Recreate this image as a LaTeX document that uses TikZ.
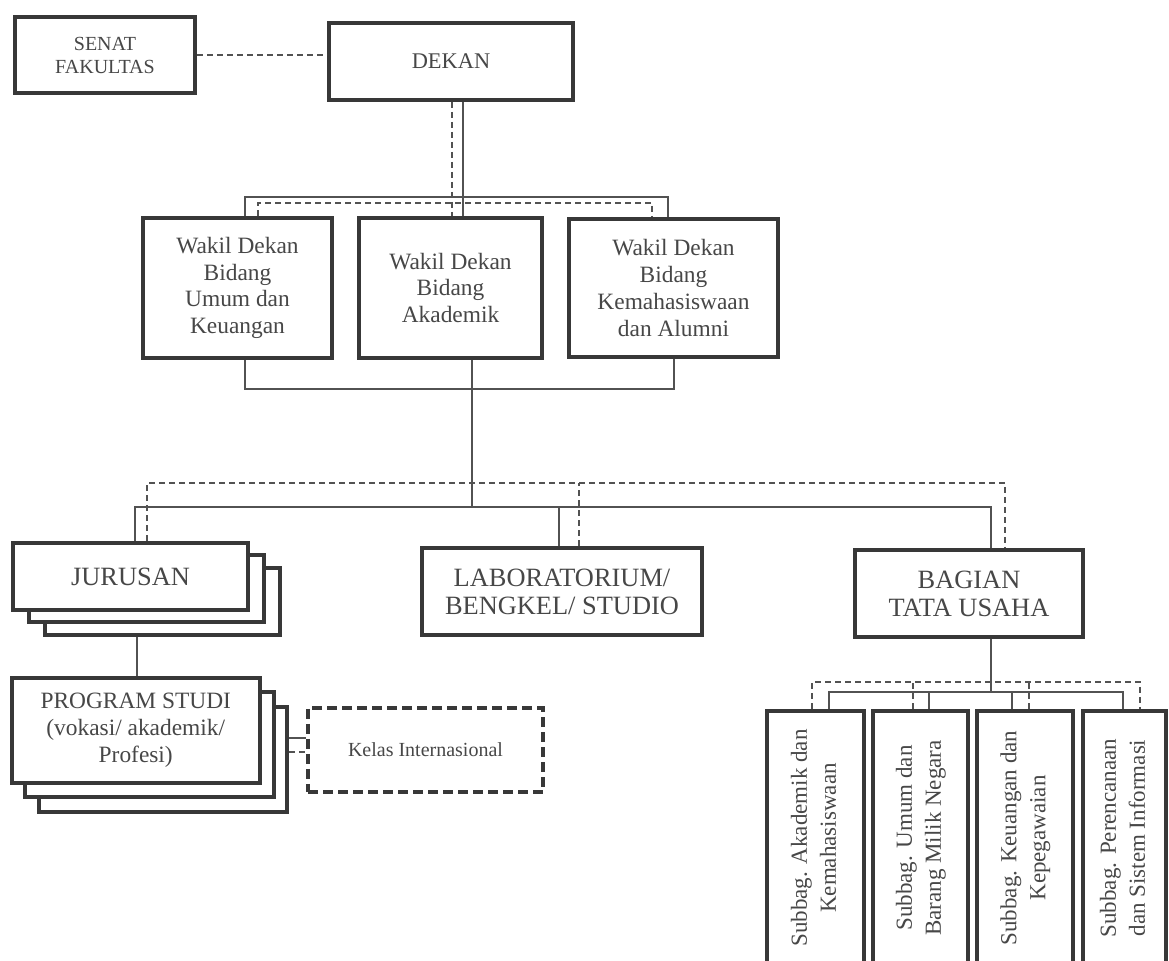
\documentclass[tikz,border=0pt]{standalone}
\usepackage{fontspec}
\setmainfont{Liberation Serif}
\usepackage{graphicx}
\usepackage{tikz}
\usetikzlibrary{calc}

\tikzset{
  box/.style={draw=black!78, line width=2pt, fill=white, text=black!72, align=center, inner sep=1pt},
  kelasbox/.style={box, dash pattern=on 5pt off 2.5pt, line width=2pt},
  link/.style={draw=black!68, line width=1pt},
  dlink/.style={link, dash pattern=on 3pt off 2pt},
  wdfont/.style={font=\fontsize{11.7}{13.4}\selectfont},
  bigfont/.style={font=\fontsize{13.2}{14}\selectfont},
  subfont/.style={font=\fontsize{11.5}{14.5}\selectfont},
}
\newcommand{\vtext}[1]{\rotatebox{90}{\begin{tabular}{@{}c@{}}#1\end{tabular}}}

\begin{document}
\begin{tikzpicture}[x=0.5pt, y=-0.5pt]
  %%%%% START %%%%%
  \useasboundingbox (0,0) rectangle (1169,961);

  % pimpinan
  \node[box, minimum width=90pt, minimum height=38pt, font=\fontsize{10}{11.5}\selectfont] (senat) at (105,55) {SENAT\\FAKULTAS};
  \node[box, minimum width=122pt, minimum height=38.5pt, font=\fontsize{11.2}{13}\selectfont] (dekan) at (451,61.5) {DEKAN};

  \node[box, wdfont, minimum width=94.5pt, minimum height=70pt] (wd1) at (237.5,288) {Wakil Dekan\\Bidang\\Umum dan\\Keuangan};
  \node[box, wdfont, minimum width=91.5pt, minimum height=70pt] (wd2) at (450.5,288) {Wakil Dekan\\Bidang\\Akademik};
  \node[box, wdfont, minimum width=104.5pt, minimum height=69pt] (wd3) at (673.5,288) {Wakil Dekan\\Bidang\\Kemahasiswaan\\dan Alumni};

  % unit bawah
  \node[box, minimum width=117.5pt, minimum height=33.5pt] (jur3) at (162.5,601.5) {};
  \node[box, minimum width=117.5pt, minimum height=33.5pt] (jur2) at (146,588.5) {};
  \node[box, bigfont, minimum width=117.5pt, minimum height=33.5pt] (jur) at (130.5,576.5) {JURUSAN};

  \node[box, bigfont, minimum width=140pt, minimum height=43.5pt] (lab) at (562,591.5) {LABORATORIUM/\\BENGKEL/ STUDIO};
  \node[box, bigfont, minimum width=114pt, minimum height=43.5pt] (bag) at (969,593.5) {BAGIAN\\TATA USAHA};

  \node[box, minimum width=124.25pt, minimum height=52.5pt] (prodi3) at (162.75,760) {};
  \node[box, minimum width=124.25pt, minimum height=52.5pt] (prodi2) at (149.25,745) {};
  \node[box, wdfont, minimum width=124.25pt, minimum height=52.5pt] (prodi) at (135.75,730.5) {PROGRAM STUDI\\(vokasi/ akademik/\\Profesi)};

  \node[kelasbox, minimum width=117.5pt, minimum height=42pt, font=\fontsize{10}{12}\selectfont] (kelas) at (425.5,750) {Kelas Internasional};

  % subbag
  \node[box, subfont, minimum width=48.5pt, minimum height=127pt] (sub1) at (815.5,838) {\vtext{Subbag. Akademik dan\\Kemahasiswaan}};
  \node[box, subfont, minimum width=47.5pt, minimum height=127pt] (sub2) at (920.5,838) {\vtext{Subbag. Umum dan\\Barang Milik Negara}};
  \node[box, subfont, minimum width=48pt, minimum height=127pt] (sub3) at (1025,838) {\vtext{Subbag. Keuangan dan\\Kepegawaian}};
  \node[box, subfont, minimum width=41.5pt, minimum height=127pt] (sub4) at (1124.5,838) {\vtext{Subbag. Perencanaan\\dan Sistem Informasi}};

  % garis senat - dekan
  \draw[dlink] (senat.east) -- (senat.east -| dekan.west);

  % dekan ke wakil dekan
  \coordinate (dkS) at ($(dekan.south)+(12,0)$);
  \coordinate (dkD) at ($(dekan.south)+(1,0)$);
  \coordinate (busA) at (463,197);
  \coordinate (busAd) at (452,203);
  \draw[link] (dkS) -- (dkS |- wd2.north);
  \draw[dlink] (dkD) -- (dkD |- wd2.north);
  \draw[link] ($(wd1.north)+(7.5,0)$) |- (busA) -| ($(wd3.north)+(-5.5,0)$);
  \draw[dlink] ($(wd1.north)+(20.5,0)$) |- (busAd) -| ($(wd3.north)+(-21.5,0)$);

  % wakil dekan ke unit
  \coordinate (busB) at (472,389);
  \coordinate (busC) at (472,507);
  \coordinate (busCd) at (579,483);
  \draw[link] ($(wd1.south)+(7.5,0)$) |- (busB) -| (wd3.south);
  \draw[link] ($(wd2.south)+(21.5,0)$) -- (busC);
  \draw[link] ($(jur.north)+(4.5,0)$) |- (busC) -| ($(bag.north)+(22,0)$);
  \draw[link] ($(lab.north)+(-3,0)$) |- (busC);
  \draw[dlink] ($(jur.north)+(16.5,0)$) |- (busCd) -| ($(bag.north)+(36,0)$);
  \draw[dlink] ($(lab.north)+(17,0)$) -- (busCd);

  % jurusan - prodi - kelas
  \coordinate (jp) at ($(prodi.north)+(1.25,0)$);
  \draw[link] (jp) -- (jp |- jur3.south);
  \coordinate (pk) at ($(prodi3.east)+(0,-22)$);
  \coordinate (pkd) at ($(prodi3.east)+(0,-8)$);
  \draw[link] (pk) -- (pk -| kelas.west);
  \draw[dlink] (pkd) -- (pkd -| kelas.west);

  % bagian tata usaha ke subbag
  \coordinate (busD) at (991,692);
  \coordinate (busDd) at (976,682);
  \draw[link] ($(bag.south)+(22,0)$) -- (busD);
  \draw[link] ($(sub1.north)+(13.5,0)$) |- (busD) -| ($(sub4.north)+(-1.5,0)$);
  \coordinate (s2) at ($(sub2.north)+(8.5,0)$);
  \coordinate (s3) at ($(sub3.north)+(-13,0)$);
  \draw[link] (s2) -- (s2 |- busD);
  \draw[link] (s3) -- (s3 |- busD);
  \draw[dlink] ($(sub1.north)+(-3.5,0)$) |- (busDd) -| ($(sub4.north)+(15.5,0)$);
  \coordinate (s2d) at ($(sub2.north)+(-7.5,0)$);
  \coordinate (s3d) at ($(sub3.north)+(4,0)$);
  \draw[dlink] (s2d) -- (s2d |- busDd);
  \draw[dlink] (s3d) -- (s3d |- busDd);

  %%%%% END %%%%%
\end{tikzpicture}
\end{document}
